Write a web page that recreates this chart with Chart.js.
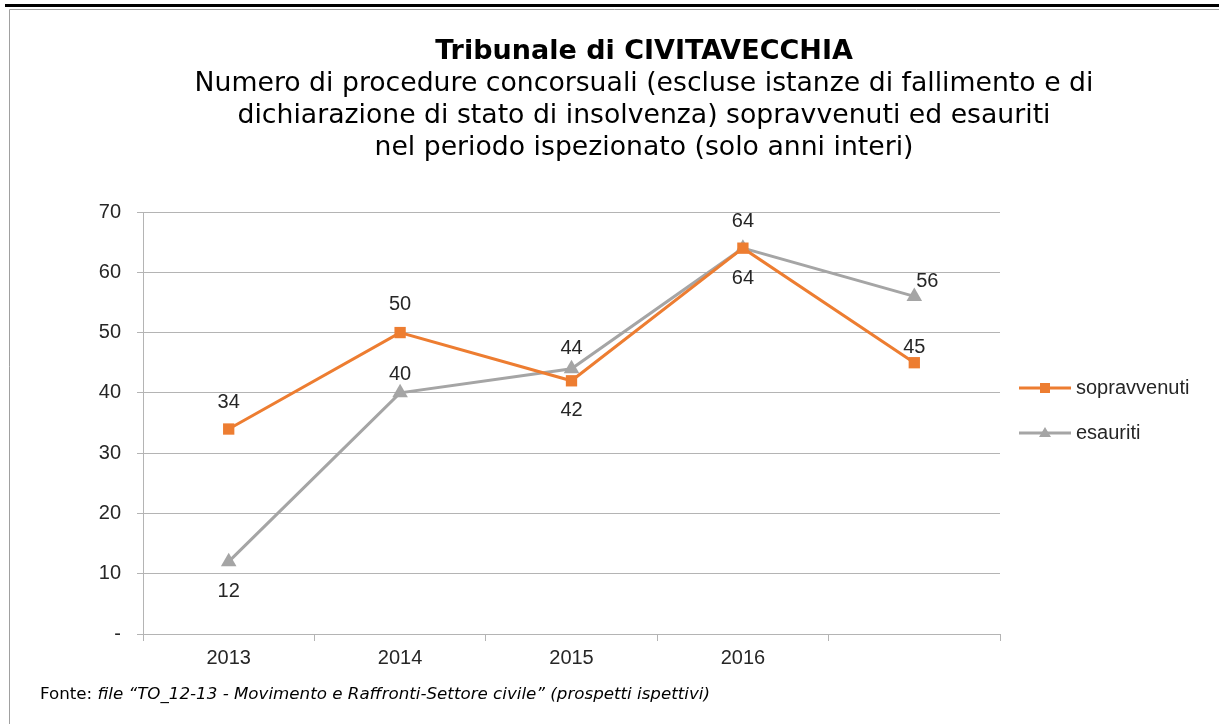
<!DOCTYPE html>
<html>
<head>
<meta charset="utf-8">
<script src="https://cdn.jsdelivr.net/npm/chart.js@4/dist/chart.umd.min.js"></script>
<style>
  html, body { margin: 0; padding: 0; background: #fff; }
  #wrap { width: 1219px; height: 724px; position: relative; }
</style>
</head>
<body>
<div id="wrap"><canvas id="chart" width="1219" height="724"></canvas></div>
<script>
// --- data ---
const years = ['2013', '2014', '2015', '2016', ''];
const sopravvenuti = [34, 50, 42, 64, 45];
const esauriti = [12, 40, 44, 64, 56];
const yTicks = [0, 10, 20, 30, 40, 50, 60, 70];

const titleText = 'Tribunale di CIVITAVECCHIA';
const subtitleLines = [
    'Numero di procedure concorsuali (escluse istanze di fallimento e di',
    'dichiarazione di stato di insolvenza) sopravvenuti ed esauriti',
    'nel periodo ispezionato (solo anni interi)'
];
const sourcePrefix = 'Fonte: ';
const sourceText = 'file \u201CTO_12-13 - Movimento e Raffronti-Settore civile\u201D (prospetti ispettivi)';

// label offsets (dx, dy) for each point
const sopLabelPos = [[0, -27], [0, -28], [0, 30], [0, -27], [0, -15]];
const esaLabelPos = [[0, 30], [0, -18], [0, -20], [0, 30], [13, -15]];

const ORANGE = '#ed7d31';
const GRAY = '#a5a5a5';
const GRID = '#b4b4b4';
const TEXT = '#262626';
const LABEL_FONT = '20px "Liberation Sans", Arial';

const decorPlugin = {
    id: 'decor',
    beforeDraw(chart) {
        const ctx = chart.ctx;
        ctx.save();
        ctx.fillStyle = '#fff';
        ctx.fillRect(0, 0, chart.width, chart.height);
        // top rule and frame
        ctx.fillStyle = '#000';
        ctx.fillRect(5, 4, chart.width - 5, 3);
        ctx.strokeStyle = '#a0a0a0';
        ctx.lineWidth = 1;
        ctx.beginPath();
        ctx.moveTo(9.5, chart.height);
        ctx.lineTo(9.5, 9.5);
        ctx.lineTo(chart.width, 9.5);
        ctx.stroke();
        ctx.restore();
    },
    afterDraw(chart) {
        const ctx = chart.ctx;
        ctx.save();
        ctx.fillStyle = '#000';
        ctx.textAlign = 'center';
        ctx.textBaseline = 'middle';
        ctx.font = 'bold 27px "DejaVu Sans"';
        ctx.fillText(titleText, 644, 52);
        ctx.font = '26.7px "DejaVu Sans"';
        subtitleLines.forEach((t, i) => ctx.fillText(t, 644, 84 + i * 32));

        // footer
        ctx.textAlign = 'left';
        ctx.font = '16.7px "DejaVu Sans"';
        ctx.fillText(sourcePrefix, 40, 695);
        const w = ctx.measureText(sourcePrefix).width;
        ctx.font = 'italic 16.7px "DejaVu Sans"';
        ctx.fillText(sourceText, 40 + w, 695);

        // data labels
        ctx.fillStyle = TEXT;
        ctx.textAlign = 'center';
        ctx.font = LABEL_FONT;
        const offsets = [sopLabelPos, esaLabelPos];
        chart.data.datasets.forEach((ds, di) => {
            chart.getDatasetMeta(di).data.forEach((pt, i) => {
                const o = offsets[di][i];
                ctx.fillText(String(ds.data[i]), pt.x + o[0], pt.y + o[1]);
            });
        });

        // legend
        const items = [
            { label: 'sopravvenuti', color: ORANGE, style: 'rect', y: 388 },
            { label: 'esauriti', color: GRAY, style: 'triangle', y: 433 }
        ];
        items.forEach(it => {
            ctx.strokeStyle = it.color;
            ctx.fillStyle = it.color;
            ctx.lineWidth = 3;
            ctx.beginPath();
            ctx.moveTo(1019, it.y);
            ctx.lineTo(1071, it.y);
            ctx.stroke();
            if (it.style === 'rect') {
                ctx.fillRect(1040, it.y - 5, 10, 10);
            } else {
                ctx.beginPath();
                ctx.moveTo(1045, it.y - 6);
                ctx.lineTo(1051, it.y + 4);
                ctx.lineTo(1039, it.y + 4);
                ctx.closePath();
                ctx.fill();
            }
            ctx.fillStyle = TEXT;
            ctx.textAlign = 'left';
            ctx.fillText(it.label, 1076, it.y);
        });
        ctx.restore();
    }
};

new Chart(document.getElementById('chart'), {
    type: 'line',
    data: {
        labels: years,
        datasets: [{
            label: 'sopravvenuti',
            data: sopravvenuti,
            borderColor: ORANGE,
            backgroundColor: ORANGE,
            borderWidth: 3,
            pointStyle: 'rect',
            pointRadius: 8,
            pointBorderWidth: 0,
            tension: 0
        }, {
            label: 'esauriti',
            data: esauriti,
            borderColor: GRAY,
            backgroundColor: GRAY,
            borderWidth: 3,
            pointStyle: 'triangle',
            pointRadius: 9,
            pointBorderWidth: 0,
            tension: 0
        }]
    },
    options: {
        responsive: false,
        animation: false,
        layout: { padding: { left: 70, right: 219, top: 212, bottom: 50 } },
        plugins: {
            legend: { display: false },
            tooltip: { enabled: false }
        },
        scales: {
            x: {
                offset: true,
                afterFit: (s) => { s.height = 40; },
                grid: {
                    display: true,
                    drawOnChartArea: false,
                    drawTicks: true,
                    tickLength: 7,
                    color: GRID,
                    offset: true
                },
                border: { display: true, color: GRID, width: 1 },
                ticks: {
                    color: TEXT,
                    font: { family: '"Liberation Sans", Arial', size: 20 },
                    padding: 5,
                    maxRotation: 0
                }
            },
            y: {
                min: 0,
                max: 70,
                afterFit: (s) => { s.width = 143 - 70; },
                afterBuildTicks: (s) => { s.ticks = yTicks.map(v => ({ value: v })); },
                grid: {
                    color: GRID,
                    tickLength: 6,
                    lineWidth: 1
                },
                border: { display: true, color: GRID, width: 1 },
                ticks: {
                    color: TEXT,
                    font: { family: '"Liberation Sans", Arial', size: 20 },
                    padding: 16,
                    callback: (v) => v === 0 ? '-' : v
                }
            }
        }
    },
    plugins: [decorPlugin]
});
</script>
</body>
</html>
